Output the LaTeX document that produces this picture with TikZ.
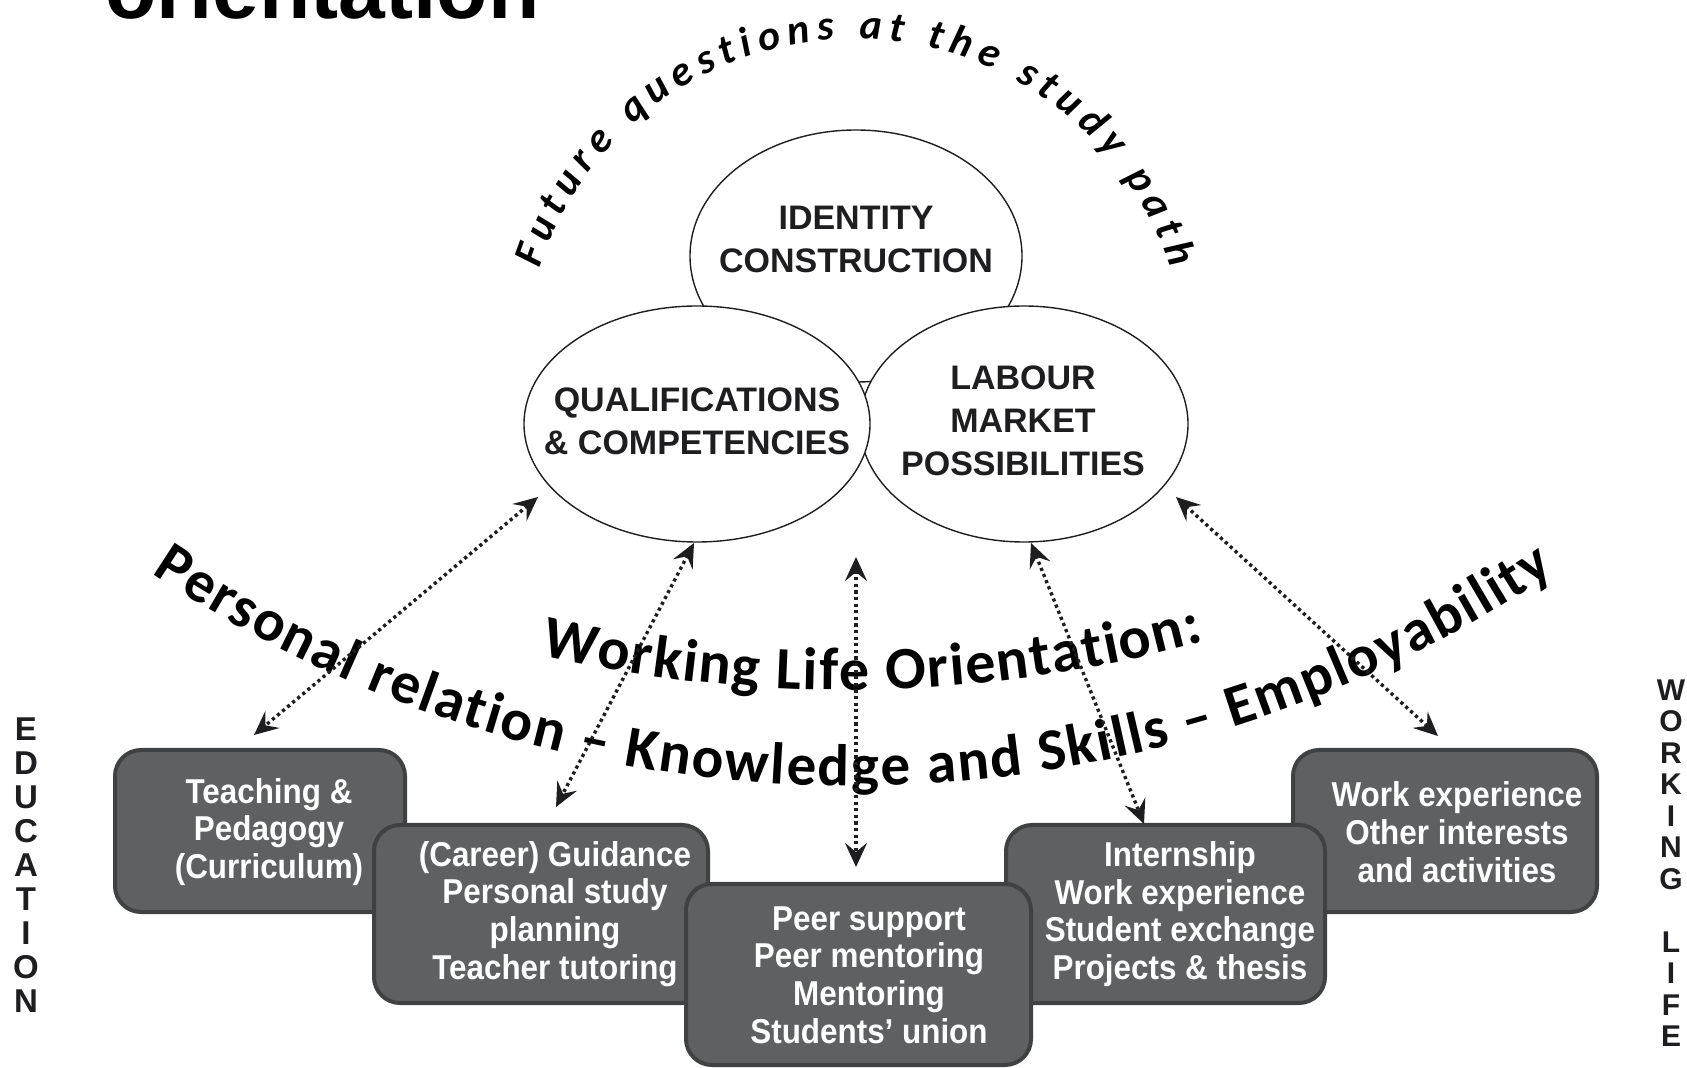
\documentclass[tikz,border=0pt]{standalone}
\usepackage{fontspec}
\setmainfont{Liberation Sans}
\newfontfamily\boxfont{Liberation Sans}[FakeStretch=0.91]
\newfontfamily\calib{Carlito}
\usetikzlibrary{shapes.geometric,arrows.meta,decorations.text}
\definecolor{boxfill}{RGB}{95,96,98}
\definecolor{boxline}{RGB}{64,65,67}
\definecolor{ink}{RGB}{30,30,32}
\begin{document}
\begin{tikzpicture}[x=0.5pt,y=0.5pt,
 oval/.style={ellipse, draw=ink, line width=0.7pt, fill=white, inner sep=0pt},
 ovaltext/.style={font=\bfseries\fontsize{17pt}{21.5pt}\selectfont, align=center, inner sep=0pt, text=ink},
 stepbox/.style={rectangle, draw=boxline, line width=2pt, fill=boxfill, rounded corners=13pt, inner sep=0pt},
 boxtext/.style={text=white, font=\boxfont\bfseries\fontsize{17.25pt}{18.85pt}\selectfont, align=center, inner sep=0pt},
 link/.style={draw=ink, line width=1.7pt, dash pattern=on 1.6pt off 1.7pt, {Stealth[length=12pt,width=11pt,inset=4.5pt]}-{Stealth[length=12pt,width=11pt,inset=4.5pt]}},
 sidetext/.style={font=\bfseries\fontsize{16.5pt}{17pt}\selectfont, align=center, inner sep=0pt, text=ink},
]
\useasboundingbox (0,0) rectangle (1687,-1068);

% title (cut off at top)
\node[anchor=base west, inner sep=0pt, text=black, font=\bfseries\fontsize{42pt}{42pt}\selectfont] (title) at (105,-19) {orientation};

% ellipses
\node[oval, minimum width=166pt, minimum height=126pt] (ident) at (856,-256) {};
\node[oval, minimum width=164pt, minimum height=118pt] (labour) at (1024,-424) {};
\node[oval, minimum width=173pt, minimum height=118pt] (qual) at (697,-424) {};
\node[ovaltext] (identT) at (856,-239) {IDENTITY\\CONSTRUCTION};
\node[ovaltext] (qualT) at (697,-421) {QUALIFICATIONS\\\& COMPETENCIES};
\node[ovaltext] (labourT) at (1023,-421) {LABOUR\\MARKET\\POSSIBILITIES};

% curved texts
\path[decorate, decoration={text along path, text align={fit to path},
  text={|\calib\bfseries\itshape\fontsize{21pt}{21pt}\selectfont|Future questions at the study path}}]
  ([shift={(855,-371)}]162:332) arc[start angle=162, end angle=18, radius=332];
\path[decorate, decoration={text along path, text align={fit to path},
  text={|\calib\bfseries\fontsize{29.5pt}{29.5pt}\selectfont|Personal relation – Knowledge and Skills – Employability}}]
  ([shift={(852,474)}]-123.8:1260) arc[start angle=-123.8, end angle=-56.2, radius=1260];
\path[decorate, decoration={text along path, text align={fit to path},
  text={|\calib\bfseries\fontsize{30pt}{30pt}\selectfont|Working Life Orientation:}}]
  ([shift={(845,663)}]-103:1353) arc[start angle=-103, end angle=-74.6, radius=1353];

% boxes
\node[stepbox, minimum width=145pt, minimum height=81pt] (b1) at (260,-831) {};
\node[stepbox, minimum width=152pt, minimum height=81pt] (b5) at (1445,-831) {};
\node[stepbox, minimum width=167pt, minimum height=89pt] (b2) at (541,-914) {};
\node[stepbox, minimum width=159.5pt, minimum height=89pt] (b4) at (1165.5,-914) {};
\node[stepbox, minimum width=172.5pt, minimum height=90.5pt] (b3) at (858.5,-974.5) {};

\node[boxtext] (t1) at (269,-832) {Teaching \&\\Pedagogy\\(Curriculum)};
\node[boxtext] (t2) at (555,-914) {(Career) Guidance\\Personal study\\planning\\Teacher tutoring};
\node[boxtext] (t3) at (869,-975) {Peer support\\Peer mentoring\\Mentoring\\Students’ union};
\node[boxtext] (t4) at (1180,-914) {Internship\\Work experience\\Student exchange\\Projects \& thesis};
\node[boxtext] (t5) at (1457,-832) {Work experience\\Other interests\\and activities};

% connectors
\coordinate (a1u) at (538,-497);  \coordinate (a1d) at (254,-735);
\coordinate (a2u) at (694,-543);  \coordinate (a2d) at (556,-807);
\coordinate (a3u) at (856,-557);  \coordinate (a3d) at (856,-867);
\coordinate (a4u) at (1031,-543); \coordinate (a4d) at (1144,-824);
\coordinate (a5u) at (1176,-497); \coordinate (a5d) at (1438,-736);
\draw[link] (a1u) -- (a1d);
\draw[link] (a2u) -- (a2d);
\draw[link] (a3u) -- (a3d);
\draw[link] (a4u) -- (a4d);
\draw[link] (a5u) -- (a5d);

% side labels
\node[sidetext] (edu) at (26,-865) {E\\D\\U\\C\\A\\T\\I\\O\\N};
\node[sidetext, font=\bfseries\fontsize{15pt}{15.75pt}\selectfont] (work) at (1671,-863) {W\\O\\R\\K\\I\\N\\G\\\mbox{}\\L\\I\\F\\E};
\end{tikzpicture}
\end{document}
